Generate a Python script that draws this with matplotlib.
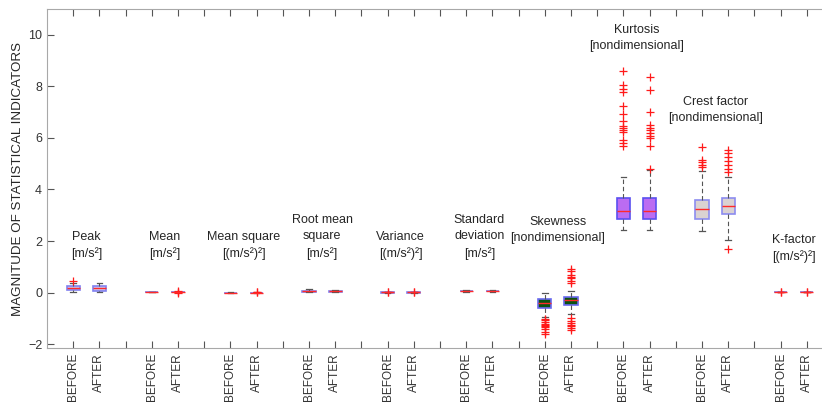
# statistical indicators before / after — boxplot summary (MATLAB-look)
import matplotlib.pyplot as plt

plt.rcParams["font.family"] = ["Liberation Sans", "DejaVu Sans"]

# ── data
group_labels = [
    "Peak\n[m/s²]",
    "Mean\n[m/s²]",
    "Mean square\n[(m/s²)²]",
    "Root mean\nsquare\n[m/s²]",
    "Variance\n[(m/s²)²]",
    "Standard\ndeviation\n[m/s²]",
    "Skewness\n[nondimensional]",
    "Kurtosis\n[nondimensional]",
    "Crest factor\n[nondimensional]",
    "K-factor\n[(m/s²)²]",
]

# BEFORE
before_whislo = [0.02, 0.010, 0.000, 0.02, 0.000, 0.03, -0.95, 2.41, 2.37, 0.010]
before_q1     = [0.10, 0.015, 0.001, 0.04, 0.002, 0.05, -0.58, 2.87, 2.86, 0.015]
before_med    = [0.19, 0.020, 0.002, 0.06, 0.004, 0.065, -0.39, 3.16, 3.24, 0.020]
before_q3     = [0.27, 0.025, 0.003, 0.08, 0.006, 0.08, -0.26, 3.67, 3.60, 0.025]
before_whishi = [0.36, 0.030, 0.005, 0.12, 0.010, 0.11, -0.02, 4.48, 4.70, 0.030]
before_fliers = [
    [0.45],
    [],
    [],
    [],
    [0.01, 0.02],
    [],
    [-1.02, -1.08, -1.15, -1.20, -1.25, -1.30, -1.35, -1.42, -1.52, -1.62],
    [8.58, 8.07, 7.90, 7.77, 7.22, 6.94, 6.67, 6.47, 6.40, 6.32, 6.21, 5.93, 5.80, 5.70],
    [5.63, 5.15, 5.05, 4.96, 4.87],
    [0.03, 0.04],
]

# AFTER
after_whislo = [0.02, 0.010, 0.000, 0.02, 0.000, 0.03, -0.84, 2.41, 2.05, 0.010]
after_q1     = [0.05, 0.015, 0.001, 0.03, 0.002, 0.05, -0.49, 2.87, 3.04, 0.015]
after_med    = [0.16, 0.020, 0.002, 0.05, 0.004, 0.06, -0.28, 3.16, 3.37, 0.020]
after_q3     = [0.26, 0.025, 0.003, 0.07, 0.006, 0.075, -0.18, 3.65, 3.67, 0.025]
after_whishi = [0.39, 0.030, 0.005, 0.10, 0.010, 0.10, 0.08, 4.75, 4.50, 0.030]
after_fliers = [
    [],
    [0.00, 0.04, 0.05],
    [0.005, 0.01],
    [],
    [0.01, 0.02],
    [],
    [0.92, 0.85, 0.68, 0.62, 0.55, 0.45, 0.38,
     -1.00, -1.10, -1.18, -1.25, -1.30, -1.36, -1.45],
    [8.35, 7.87, 7.00, 6.51, 6.38, 6.29, 6.19, 6.09, 6.00, 5.67, 4.79],
    [5.54, 5.41, 5.26, 5.11, 4.96, 4.81, 4.66, 1.69],
    [0.03, 0.04],
]

# ── layout / style (not data)
LABEL_Y = [1.83, 1.83, 1.83, 2.16, 1.83, 2.16, 2.42, 9.88, 7.10, 1.72]
FACE = ["#c9c9f4"] * 6 + ["#0b5212", "#bb6cf2", "#dad2d2", "#c9c9f4"]
EDGE = ["#8282f0"] * 6 + ["#6a6af0", "#5a50f0", "#8c8cf0", "#8282f0"]


def stats(i, lo, q1, med, q3, hi, fl):
    return dict(whislo=lo[i], q1=q1[i], med=med[i], q3=q3[i],
                whishi=hi[i], fliers=fl[i])


fig = plt.figure(figsize=(8.22, 4.05), dpi=100)
ax = fig.add_axes([0.0572, 0.1407, 0.9428, 0.8371])

n = len(group_labels)
for i in range(n):
    pos_b = 1 + 3 * i
    pos_a = 2 + 3 * i
    bxs = [
        stats(i, before_whislo, before_q1, before_med, before_q3,
              before_whishi, before_fliers),
        stats(i, after_whislo, after_q1, after_med, after_q3,
              after_whishi, after_fliers),
    ]
    ax.bxp(
        bxs, positions=[pos_b, pos_a], widths=0.5, capwidths=0.22,
        patch_artist=True, manage_ticks=False,
        boxprops=dict(facecolor=FACE[i], edgecolor=EDGE[i], linewidth=1.2),
        medianprops=dict(color="#ff2a2a", linewidth=1.0),
        whiskerprops=dict(color="#555555", linewidth=0.8, linestyle=(0, (4, 2.5))),
        capprops=dict(color="#555555", linewidth=0.9),
        flierprops=dict(marker="+", markeredgecolor="#ff1a1a",
                        markersize=6, markeredgewidth=0.9),
    )
    ax.text(pos_b + 0.5, LABEL_Y[i], group_labels[i], ha="center", va="center",
            fontsize=9, color="#262626", linespacing=1.45)

# ── axes styling
positions = list(range(1, 3 * n))
tick_labels = ["BEFORE" if p % 3 == 1 else "AFTER" if p % 3 == 2 else ""
               for p in positions]
ax.set_xticks(positions)
ax.set_xticklabels(tick_labels, rotation=90, fontsize=8.5, color="#333333")
ax.set_xlim(0, 29.58)
ax.set_ylim(-2.15, 11.0)
ax.set_yticks([-2, 0, 2, 4, 6, 8, 10])
ax.tick_params(axis="y", labelsize=9, labelcolor="#333333")
ax.tick_params(direction="in", length=5, width=0.8, color="#555555",
               top=True, right=False)
ax.spines["right"].set_visible(False)
for s in ("left", "top", "bottom"):
    ax.spines[s].set_color("#a8a8a8")
    ax.spines[s].set_linewidth(0.8)

ax.set_ylabel("MAGNITUDE OF STATISTICAL INDICATORS", fontsize=9.6,
              color="#262626", labelpad=3)

plt.savefig("out.png", dpi=100)
plt.close()
